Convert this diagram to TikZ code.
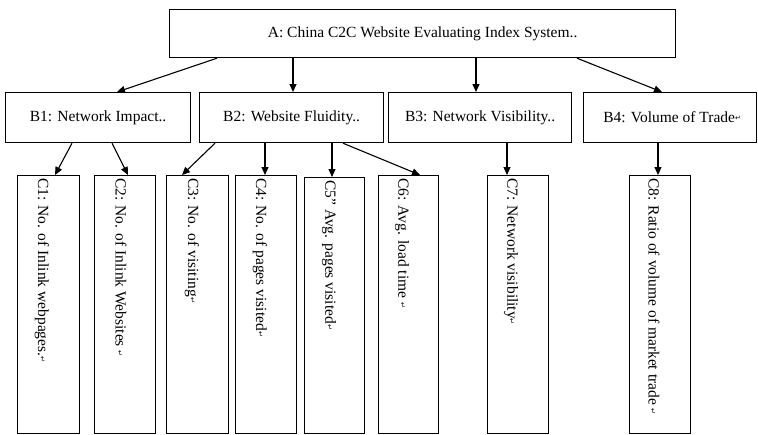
\documentclass[tikz,border=0pt]{standalone}
\usepackage{fontspec}
\setmainfont{Liberation Serif}
\newfontfamily\markfont{DejaVu Sans}
\usetikzlibrary{arrows.meta,calc}
\newcommand{\retmark}{{\markfont\fontsize{7}{7}\selectfont\raisebox{2pt}{↵}}}
\tikzset{
  box/.style={draw, line width=1.2pt, rectangle, inner sep=0pt, anchor=north west},
  lbl/.style={font=\fontsize{15.5}{18}\selectfont, inner sep=0pt},
  vlbl/.style={font=\fontsize{15.5}{18}\selectfont, inner sep=0pt, rotate=-90, anchor=west},
  conn/.style={line width=1.1pt, -{Triangle[length=8pt,width=7pt]}}
}
\begin{document}
\begin{tikzpicture}[x=1pt,y=1pt]
\useasboundingbox (0,0) rectangle (758,-434);
% level A
\node[box, minimum width=506pt, minimum height=48pt] (A) at (169,-9) {};
\node[lbl] (At) at (A.center) {A: China C2C Website Evaluating Index System..};
% level B
\node[box, minimum width=185pt, minimum height=50pt] (B1) at (5,-92) {};
\node[box, minimum width=184pt, minimum height=50pt] (B2) at (199,-92) {};
\node[box, minimum width=183pt, minimum height=50pt] (B3) at (388,-92) {};
\node[box, minimum width=173pt, minimum height=50pt] (B4) at (583,-92) {};
\node[lbl] (B1t) at (B1.center) {B1: Network Impact..};
\node[lbl] (B2t) at (B2.center) {B2: Website Fluidity..};
\node[lbl] (B3t) at (B3.center) {B3: Network Visibility..};
\node[lbl] (B4t) at ($(B4.center)+(2,0)$) {B4: Volume of Trade\retmark};
% level C
\node[box, minimum width=62pt, minimum height=257.5pt] (C1) at (17,-175) {};
\node[box, minimum width=61pt, minimum height=257.5pt] (C2) at (94,-175) {};
\node[box, minimum width=62pt, minimum height=257.5pt] (C3) at (166,-175) {};
\node[box, minimum width=61pt, minimum height=257.5pt] (C4) at (235,-175) {};
\node[box, minimum width=60pt, minimum height=255.5pt] (C5) at (304,-177) {};
\node[box, minimum width=60pt, minimum height=257.5pt] (C6) at (378,-175) {};
\node[box, minimum width=61pt, minimum height=257.5pt] (C7) at (487,-175) {};
\node[box, minimum width=61pt, minimum height=257.5pt] (C8) at (629,-175) {};
\node[vlbl] (C1t) at ($(C1.north west)+(25,-3)$) {C1: No. of Inlink webpages.\retmark};
\node[vlbl] (C2t) at ($(C2.north west)+(27,-3)$) {C2: No. of Inlink Websites \retmark};
\node[vlbl] (C3t) at ($(C3.north west)+(26,-3)$) {C3: No. of visiting\retmark};
\node[vlbl] (C4t) at ($(C4.north west)+(25,-3)$) {C4: No. of pages visited\retmark};
\node[vlbl] (C5t) at ($(C5.north west)+(25,-3)$) {C5” Avg. pages visited\retmark};
\node[vlbl] (C6t) at ($(C6.north west)+(24,-3)$) {C6: Avg. load time \retmark};
\node[vlbl] (C7t) at ($(C7.north west)+(24,-3)$) {C7: Network visibility\retmark};
\node[vlbl] (C8t) at ($(C8.north west)+(25,-3)$) {C8: Ratio of volume of market trade \retmark};
% connectors A -> B
\draw[conn] ($(A.south west)+(48,0)$) -- ($(B1.north west)+(112,0)$);
\draw[conn] ($(A.south west)+(124,0)$) -- ($(B2.north west)+(94,0)$);
\draw[conn] ($(A.south west)+(307,0)$) -- ($(B3.north west)+(88,0)$);
\draw[conn] ($(A.south west)+(408,0)$) -- ($(B4.north west)+(79,0)$);
% connectors B -> C
\draw[conn] ($(B1.south west)+(67,0)$) -- ($(C1.north west)+(38,0)$);
\draw[conn] ($(B1.south west)+(107,0)$) -- ($(C2.north west)+(34,0)$);
\draw[conn] ($(B2.south west)+(16,0)$) -- ($(C3.north west)+(16,0)$);
\draw[conn] ($(B2.south west)+(66,0)$) -- ($(C4.north west)+(30,0)$);
\draw[conn] ($(B2.south west)+(133,0)$) -- ($(C5.north west)+(28,0)$);
\draw[conn] ($(B2.south west)+(144,0)$) -- ($(C6.north west)+(42,0)$);
\draw[conn] ($(B3.south west)+(119,0)$) -- ($(C7.north west)+(20,0)$);
\draw[conn] ($(B4.south west)+(75,0)$) -- ($(C8.north west)+(29,0)$);
\end{tikzpicture}
\end{document}
